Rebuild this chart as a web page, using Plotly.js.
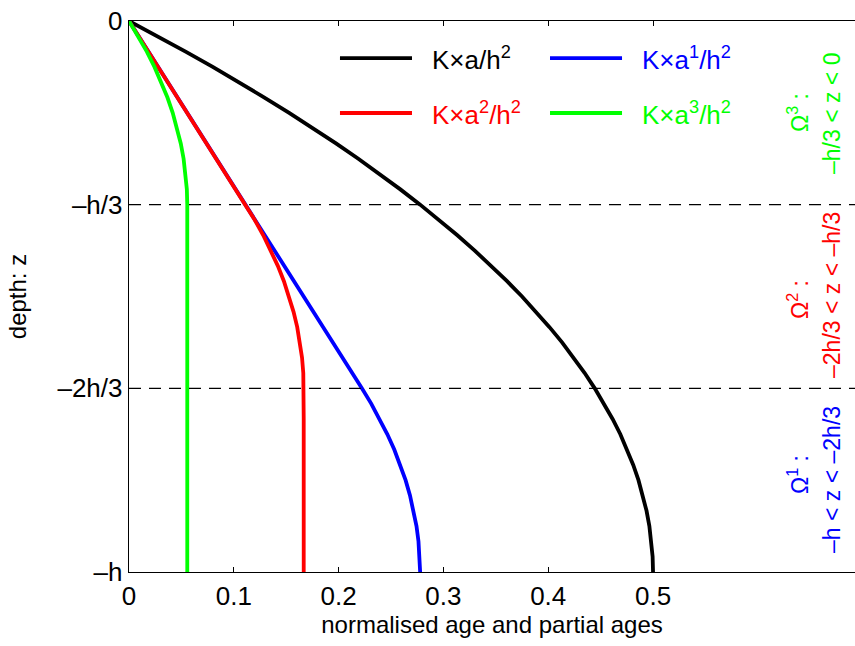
<!DOCTYPE html>
<html>
<head>
<meta charset="utf-8">
<script src="https://cdn.plot.ly/plotly-3.0.1.min.js"></script>
<style>html,body{margin:0;padding:0;background:#fff;}#chart{width:855px;height:646px;}</style>
</head>
<body>
<div id="chart"></div>
<script>
// depth z (in units of h)
var depth = [0, -0.0278, -0.0556, -0.0833, -0.1111, -0.1389, -0.1667, -0.1944, -0.2222, -0.25, -0.2778, -0.3056, -0.3333,
  -0.3611, -0.3889, -0.4167, -0.4444, -0.4722, -0.5, -0.5278, -0.5556, -0.5833, -0.6111, -0.6389, -0.6667,
  -0.6944, -0.7222, -0.75, -0.7778, -0.8056, -0.8333, -0.8611, -0.8889, -0.9167, -0.9444, -0.9722, -1];
// K*a/h^2
var ageTotal = [0, 0.0274, 0.0540, 0.0799, 0.1049, 0.1292, 0.1528, 0.1755, 0.1975, 0.2188, 0.2392, 0.2589, 0.2778,
  0.2959, 0.3133, 0.3299, 0.3457, 0.3607, 0.375, 0.3885, 0.4012, 0.4132, 0.4244, 0.4348, 0.4444,
  0.4533, 0.4614, 0.4688, 0.4753, 0.4811, 0.4861, 0.4904, 0.4938, 0.4965, 0.4985, 0.4996, 0.5];
// K*a^1/h^2
var age1 = [0, 0.0093, 0.0185, 0.0278, 0.0370, 0.0463, 0.0556, 0.0648, 0.0741, 0.0833, 0.0926, 0.1019, 0.1111,
  0.1204, 0.1296, 0.1389, 0.1481, 0.1574, 0.1667, 0.1759, 0.1852, 0.1944, 0.2037, 0.2130, 0.2222,
  0.2311, 0.2392, 0.2465, 0.2531, 0.2589, 0.2639, 0.2681, 0.2716, 0.2743, 0.2762, 0.2774, 0.2778];
// K*a^2/h^2
var age2 = [0, 0.0093, 0.0185, 0.0278, 0.0370, 0.0463, 0.0556, 0.0648, 0.0741, 0.0833, 0.0926, 0.1019, 0.1111,
  0.1200, 0.1281, 0.1354, 0.1420, 0.1478, 0.1528, 0.1570, 0.1605, 0.1632, 0.1651, 0.1663, 0.1667,
  0.1667, 0.1667, 0.1667, 0.1667, 0.1667, 0.1667, 0.1667, 0.1667, 0.1667, 0.1667, 0.1667, 0.1667];
// K*a^3/h^2
var age3 = [0, 0.0089, 0.0170, 0.0243, 0.0309, 0.0367, 0.0417, 0.0459, 0.0494, 0.0521, 0.0540, 0.0552, 0.0556,
  0.0556, 0.0556, 0.0556, 0.0556, 0.0556, 0.0556, 0.0556, 0.0556, 0.0556, 0.0556, 0.0556, 0.0556,
  0.0556, 0.0556, 0.0556, 0.0556, 0.0556, 0.0556, 0.0556, 0.0556, 0.0556, 0.0556, 0.0556, 0.0556];

var xTicks = [0, 0.1, 0.2, 0.3, 0.4, 0.5];
var xTickText = ['0', '0.1', '0.2', '0.3', '0.4', '0.5'];
var yTicks = [0, -1/3, -2/3, -1];
var yTickText = ['0', '–h/3', '–2h/3', '–h'];
var boundaries = [-1/3, -2/3];

var seriesNames = ['K×a/h<sup>2</sup>', 'K×a<sup>1</sup>/h<sup>2</sup>', 'K×a<sup>2</sup>/h<sup>2</sup>', 'K×a<sup>3</sup>/h<sup>2</sup>'];
var seriesColors = ['#000000', '#0000ff', '#ff0000', '#00ff00'];
var seriesData = [ageTotal, age1, age2, age3];

var FONT = 'Liberation Sans, Arial, Helvetica, sans-serif';

var traces = seriesData.map(function (vals, i) {
  return {x: vals, y: depth, type: 'scatter', mode: 'lines',
    line: {color: seriesColors[i], width: 3.8}, name: seriesNames[i], showlegend: false, hoverinfo: 'skip'};
});

var shapes = boundaries.map(function (b) {
  return {type: 'line', xref: 'paper', yref: 'y', x0: 0, x1: 1, y0: b, y1: b,
    line: {color: '#000', width: 1.3, dash: '12px,8px'}};
});

// manual legend (2 x 2)
var legPos = [
  {lx0: 0.2906, lx1: 0.3898, tx: 0.4146, y: 0.9328},
  {lx0: 0.5799, lx1: 0.6791, tx: 0.7039, y: 0.9328},
  {lx0: 0.2906, lx1: 0.3898, tx: 0.4146, y: 0.8330},
  {lx0: 0.5799, lx1: 0.6791, tx: 0.7039, y: 0.8330}
];
var annotations = [];
legPos.forEach(function (p, i) {
  shapes.push({type: 'line', xref: 'paper', yref: 'paper', x0: p.lx0, x1: p.lx1, y0: p.y, y1: p.y,
    line: {color: seriesColors[i], width: 3.8}});
  annotations.push({xref: 'paper', yref: 'paper', x: p.tx, y: p.y, xanchor: 'left', yanchor: 'middle',
    text: seriesNames[i], showarrow: false, font: {family: FONT, size: 26, color: seriesColors[i]}});
});

// region labels
var regionLabels = [
  {omega: 'Ω<sup>3</sup> :', range: '–h/3 < z < 0', color: '#00ff00', y1: 0.833, y2: 0.833},
  {omega: 'Ω<sup>2</sup> :', range: '–2h/3 < z < –h/3', color: '#ff0000', y1: 0.4936, y2: 0.5027},
  {omega: 'Ω<sup>1</sup> :', range: '–h < z < –2h/3', color: '#0000ff', y1: 0.176, y2: 0.1688}
];
regionLabels.forEach(function (r) {
  annotations.push({xref: 'paper', yref: 'paper', x: 0.9215, y: r.y1, xanchor: 'center', yanchor: 'middle',
    text: r.omega, textangle: -90, showarrow: false, font: {family: FONT, size: 23, color: r.color}});
  annotations.push({xref: 'paper', yref: 'paper', x: 0.9683, y: r.y2, xanchor: 'center', yanchor: 'middle',
    text: r.range, textangle: -90, showarrow: false, font: {family: FONT, size: 23, color: r.color}});
});

var layout = {
  width: 855, height: 646,
  margin: {l: 129, r: 0, t: 21, b: 74, pad: 0},
  paper_bgcolor: '#fff', plot_bgcolor: '#fff',
  font: {family: FONT, size: 26, color: '#000'},
  showlegend: false,
  xaxis: {range: [0, 0.6927], tickvals: xTicks, ticktext: xTickText, ticks: 'inside', ticklen: 5,
    tickwidth: 1, tickcolor: '#000', showline: true, linecolor: '#000', linewidth: 1.3, mirror: 'ticks',
    showgrid: false, zeroline: false, tickfont: {size: 26},
    title: {text: 'normalised age and partial ages', font: {size: 24}, standoff: 6}},
  yaxis: {range: [-1, 0], tickvals: yTicks, ticktext: yTickText, ticks: 'inside', ticklen: 5,
    tickwidth: 1, tickcolor: '#000', showline: true, linecolor: '#000', linewidth: 1.3,
    showgrid: false, zeroline: false, tickfont: {size: 26},
    title: {text: 'depth: z', font: {size: 24}, standoff: 24}},
  shapes: shapes,
  annotations: annotations
};

Plotly.newPlot('chart', traces, layout, {displayModeBar: false, staticPlot: true});
</script>
</body>
</html>
